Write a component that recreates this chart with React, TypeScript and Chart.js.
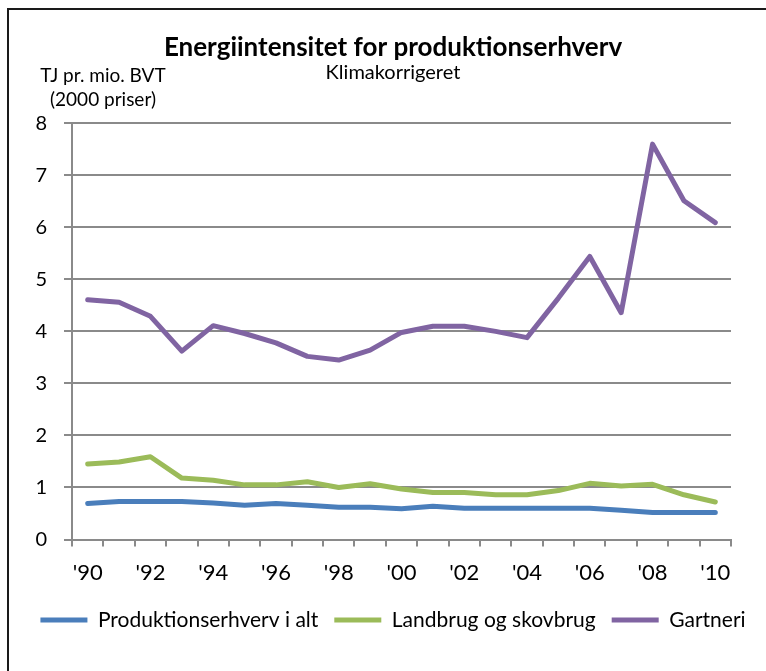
import React, { useEffect, useRef } from "react";
import { Chart, registerables } from "chart.js";

Chart.register(...registerables);

const years = ["'90", "'91", "'92", "'93", "'94", "'95", "'96", "'97", "'98", "'99", "'00", "'01", "'02", "'03", "'04", "'05", "'06", "'07", "'08", "'09", "'10"];
const produktionserhverv = [0.69, 0.73, 0.73, 0.73, 0.70, 0.66, 0.69, 0.66, 0.62, 0.62, 0.59, 0.64, 0.60, 0.60, 0.60, 0.60, 0.60, 0.56, 0.52, 0.52, 0.52];
const landbrug = [1.45, 1.49, 1.59, 1.18, 1.14, 1.05, 1.05, 1.11, 1.00, 1.07, 0.97, 0.905, 0.905, 0.86, 0.86, 0.94, 1.08, 1.03, 1.06, 0.86, 0.72];
const gartneri = [4.61, 4.56, 4.29, 3.62, 4.11, 3.96, 3.78, 3.52, 3.45, 3.64, 3.98, 4.10, 4.10, 4.00, 3.88, 4.64, 5.44, 4.36, 7.60, 6.51, 6.09];
const seriesNames = ["Produktionserhverv i alt", "Landbrug og skovbrug", "Gartneri"];
const seriesColors = ["#4A7EBB", "#9BBB59", "#8064A2"];
const yMin = 0;
const yMax = 8;
const yStep = 1;
const titleText = "Energiintensitet for produktionserhverv";
const subtitleText = "Klimakorrigeret";
const unitLines = ["TJ pr. mio. BVT", "(2000 priser)"];

const FONT = "Lato, 'Open Sans', sans-serif";
const GRID = "#8a8a8a";

const extras = {
  id: "extras",
  beforeDraw(chart: any) {
    const ctx = chart.ctx;
    ctx.save();
    ctx.fillStyle = "#1a1a1a";
    ctx.fillRect(7, 8, 766, 2);
    ctx.fillRect(7, 8, 2, 671);
    ctx.restore();
  },
  afterDraw(chart: any) {
    const ctx = chart.ctx;
    ctx.save();
    ctx.fillStyle = "#000";
    ctx.font = "19px " + FONT;
    ctx.textAlign = "center";
    ctx.textBaseline = "middle";
    ctx.fillText(unitLines[0], 103, 76);
    ctx.fillText(unitLines[1], 103, 100);
    ctx.restore();
  },
};

export default function App() {
  const ref = useRef<HTMLCanvasElement | null>(null);
  useEffect(() => {
    const datasets = [produktionserhverv, landbrug, gartneri].map((d, i) => ({
      label: seriesNames[i],
      data: d,
      borderColor: seriesColors[i],
      backgroundColor: seriesColors[i],
      borderWidth: 5,
      pointRadius: 0,
      pointHoverRadius: 0,
      pointStyle: "line" as const,
      tension: 0,
      borderJoinStyle: "round" as const,
      borderCapStyle: "round" as const,
      yAxisID: "y",
    }));
    const chart = new Chart(ref.current as HTMLCanvasElement, {
      type: "line",
      data: { labels: years, datasets },
      plugins: [extras],
      options: {
        animation: false,
        responsive: false,
        devicePixelRatio: 1,
        layout: { padding: { top: 0, left: 20, right: 0, bottom: 30.5 } },
        plugins: {
          title: {
            display: true,
            text: titleText,
            color: "#000",
            font: { family: FONT, size: 26, weight: "bold", lineHeight: 0.8 },
            padding: { top: 37.6, bottom: 0 },
          },
          subtitle: {
            display: true,
            text: subtitleText,
            color: "#000",
            font: { family: FONT, size: 20, lineHeight: 1 },
            padding: { top: 4, bottom: 40.9 },
          },
          legend: {
            position: "bottom",
            labels: {
              usePointStyle: true,
              pointStyleWidth: 47,
              color: "#000",
              font: { family: FONT, size: 21 },
              padding: 16,
              boxHeight: 21,
            },
          },
          tooltip: { enabled: false },
        },
        scales: {
          x: {
            type: "category",
            offset: true,
            afterFit: (s: any) => { s.height = 54; },
            grid: {
              display: true,
              offset: true,
              drawOnChartArea: false,
              drawTicks: true,
              tickLength: 7,
              color: GRID,
              lineWidth: 2,
            },
            border: { display: true, color: GRID, width: 2 },
            ticks: {
              autoSkip: false,
              maxRotation: 0,
              color: "#000",
              padding: 13,
              font: { family: FONT, size: 22 },
              callback: (_v: any, i: number) => (i % 2 === 0 ? years[i] : ""),
            },
          },
          y: {
            position: "left",
            min: yMin,
            max: yMax,
            afterFit: (s: any) => { s.width = 52; },
            grid: {
              color: GRID,
              lineWidth: 2,
              drawTicks: true,
              tickLength: 8,
            },
            border: { display: true, color: GRID, width: 2 },
            ticks: {
              stepSize: yStep,
              color: "#000",
              padding: 17,
              font: { family: FONT, size: 20 },
            },
          },
          yRight: {
            type: "linear",
            position: "right",
            display: true,
            min: yMin,
            max: yMax,
            afterFit: (s: any) => { s.width = 35; },
            grid: { display: false, drawTicks: false },
            border: { display: false },
            ticks: { display: false },
          },
        },
      },
    });
    return () => chart.destroy();
  }, []);
  return (
    <div style={{ position: "absolute", left: 0, top: 0, width: 766, height: 671, overflow: "hidden", background: "#fff" }}>
      <canvas ref={ref} width={766} height={671} style={{ display: "block", width: 766, height: 671 }} />
    </div>
  );
}
